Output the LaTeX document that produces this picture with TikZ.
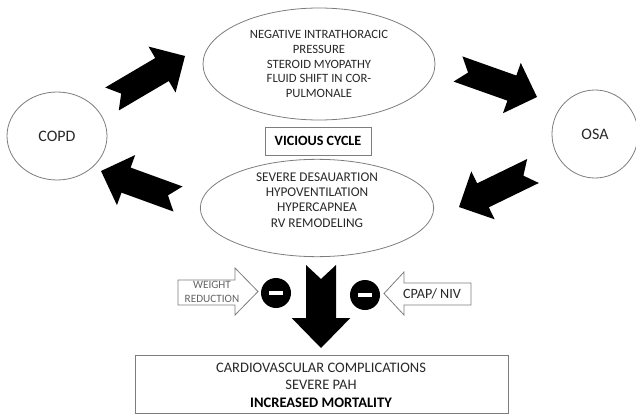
\documentclass[tikz,border=0pt]{standalone}
\usepackage{fontspec}
\setmainfont{Carlito}
\usetikzlibrary{shapes.geometric,calc}
\definecolor{txtgray}{RGB}{40,40,40}
\definecolor{linegray}{RGB}{125,125,125}

% sizes of the black block arrows
\newcommand{\shaftw}{10pt}
\newcommand{\headw}{20pt}
\newcommand{\headl}{20pt}
\newcommand{\notchd}{8pt}
% notched block arrow from tail #1 to tip #2
\newcommand{\bigarrow}[2]{%
  \coordinate (#1-h) at ($(#2)!\headl!(#1)$);
  \fill[black] ($(#1)!\shaftw!90:(#2)$) -- ($(#1-h)!\shaftw!90:(#2)$)
    -- ($(#1-h)!\headw!90:(#2)$) -- (#2) -- ($(#1-h)!\headw!-90:(#2)$)
    -- ($(#1-h)!\shaftw!-90:(#2)$) -- ($(#1)!\shaftw!-90:(#2)$)
    -- ($(#1)!\notchd!(#2)$) -- cycle;}

\begin{document}
\begin{tikzpicture}[x=0.75pt, y=-0.75pt,
    bubble/.style={ellipse, draw=linegray, line width=0.6pt, inner sep=0pt},
    txt/.style={text=txtgray, align=center, font=\fontsize{9.5}{10.9}\selectfont},
    bigtxt/.style={text=txtgray, font=\fontsize{12}{14}\selectfont},
    framed/.style={draw=linegray, line width=0.6pt, inner sep=0pt},
    minus/.style={circle, fill=black, minimum size=22.5pt, inner sep=0pt},
    openarrow/.style={draw=linegray, line width=0.6pt, fill=white}]
  \useasboundingbox (0,0) rectangle (636,414);
  % Draw the two diseases
  \node[bubble, minimum width=75pt, minimum height=66pt] (copd) at (57,136) {};
  \node[bigtxt] (copdtext) at (57,136) {COPD};
  \node[bubble, minimum width=64.5pt, minimum height=66pt] (osa) at (595,134) {};
  \node[bigtxt] (osatext) at (595,134) {OSA};
  % Draw the mechanisms
  \node[bubble, minimum width=174pt, minimum height=84pt] (upper) at (319,64) {};
  \node[txt] (uppertext) at (319,64) {NEGATIVE INTRATHORACIC\\PRESSURE\\STEROID MYOPATHY\\FLUID SHIFT IN COR-\\PULMONALE};
  \node[bubble, minimum width=175pt, minimum height=73pt] (lower) at (317,208) {};
  \node[txt, font=\fontsize{10}{11.5}\selectfont] (lowertext) at (317,200) {SEVERE DESAUARTION\\HYPOVENTILATION\\HYPERCAPNEA\\RV REMODELING};
  \node[framed, minimum width=79.5pt, minimum height=21pt, font=\fontsize{10.6}{12}\selectfont\bfseries] (cycle) at (318,141) {VICIOUS CYCLE};
  % Draw the cycle arrows
  \coordinate (a1s) at (112,99);  \coordinate (a1e) at (185,56);
  \coordinate (a2s) at (458,69);  \coordinate (a2e) at (537,97);
  \coordinate (a3s) at (533,171); \coordinate (a3e) at (459,207);
  \coordinate (a4s) at (178,199); \coordinate (a4e) at (101,171);
  \bigarrow{a1s}{a1e}
  \bigarrow{a2s}{a2e}
  \bigarrow{a3s}{a3e}
  \bigarrow{a4s}{a4e}
  % Draw the outcome arrow
  \coordinate (ds) at (321,265); \coordinate (de) at (321,348);
  {\renewcommand{\shaftw}{11.25pt}\renewcommand{\headw}{22pt}%
   \renewcommand{\headl}{22.5pt}\renewcommand{\notchd}{10.5pt}%
   \bigarrow{ds}{de}}
  % Draw the treatments
  \draw[openarrow] (178,280) -- (235,280) -- (235,268) -- (258,291.5) -- (235,315) -- (235,305) -- (178,305) -- cycle;
  \node[txt, text=linegray!80!black, font=\fontsize{8.4}{10.5}\selectfont] (weight) at (212,292) {WEIGHT\\REDUCTION};
  \draw[openarrow] (471,283) -- (404,283) -- (404,272) -- (384,293.5) -- (404,315) -- (404,305) -- (471,305) -- cycle;
  \node[txt, font=\fontsize{10.6}{12}\selectfont] (cpap) at (432,294) {CPAP/ NIV};
  \node[minus] (m1) at (276,293) {};
  \draw[white, line width=3pt] ([xshift=-4.9pt]m1.center) -- ([xshift=4.9pt]m1.center);
  \node[minus] (m2) at (365,295) {};
  \draw[white, line width=3pt] ([xshift=-4.9pt]m2.center) -- ([xshift=4.9pt]m2.center);
  % Draw the outcome
  \draw[framed] (135,355) rectangle (508,413);
  \node[txt, font=\fontsize{10.9}{13.1}\selectfont] (outcome) at (321,385) {CARDIOVASCULAR COMPLICATIONS\\SEVERE PAH\\\textcolor{black}{\bfseries INCREASED MORTALITY}};
\end{tikzpicture}
\end{document}
